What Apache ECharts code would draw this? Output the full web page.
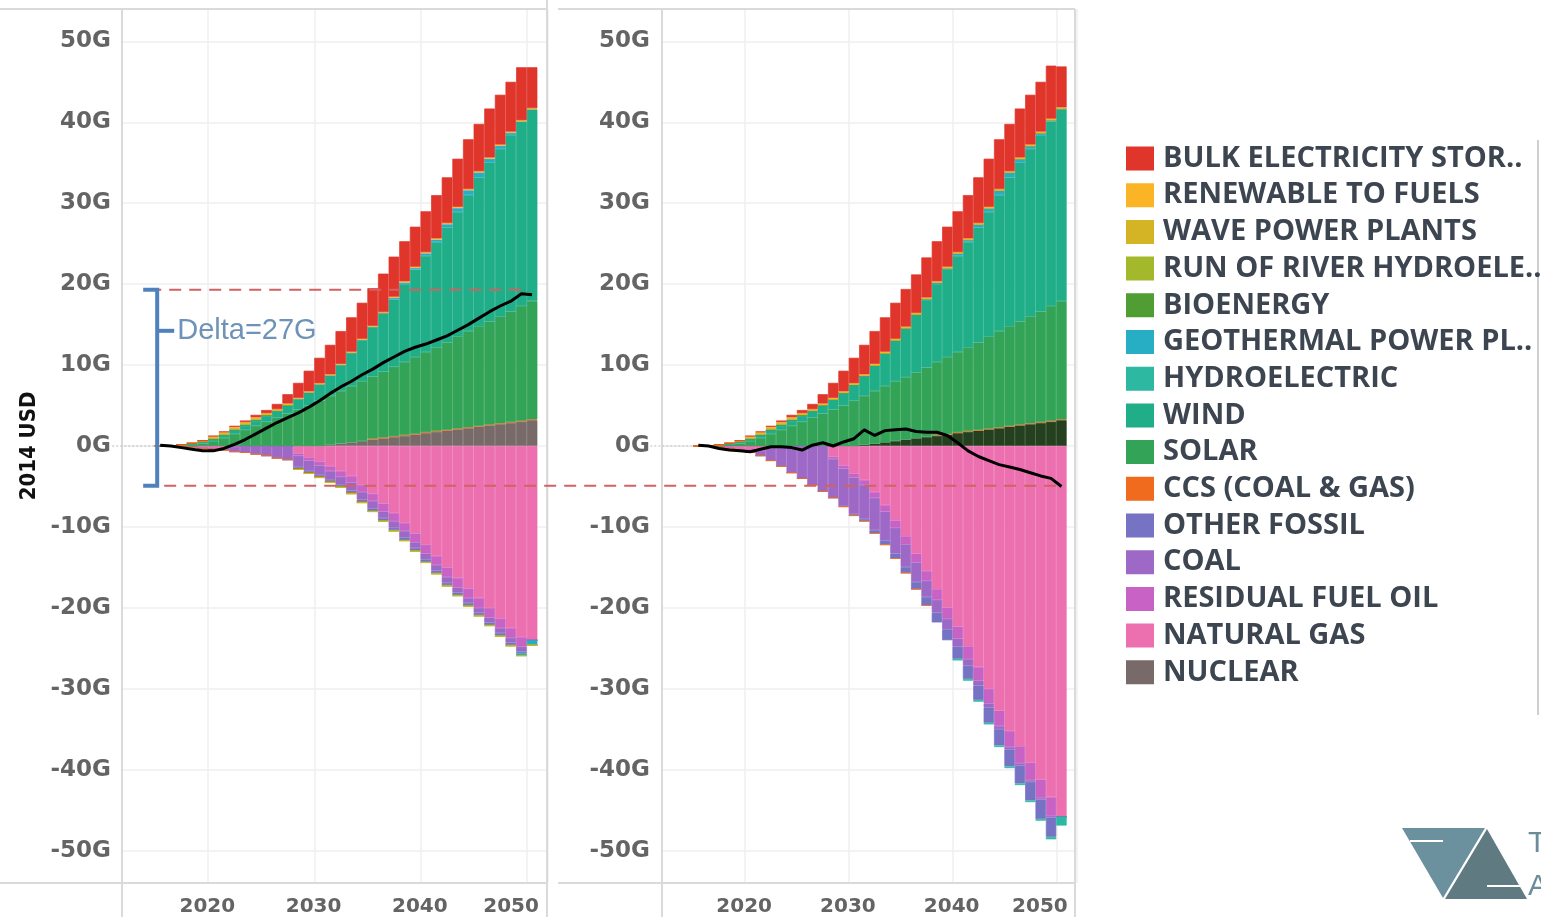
<!DOCTYPE html>
<html>
<head>
<meta charset="utf-8">
<style>
html,body{margin:0;padding:0;background:#fff;}
#main{width:1541px;height:917px;}
</style>
</head>
<body>
<div id="main"></div>
<script src="https://cdn.jsdelivr.net/npm/echarts@6/dist/echarts.min.js"></script>
<script>
// axis bands, one per year
var axisYears = ['2012','2013','2014','2015','2016','2017','2018','2019','2020','2021','2022','2023','2024','2025','2026','2027','2028','2029','2030','2031',
                 '2032','2033','2034','2035','2036','2037','2038','2039','2040','2041','2042','2043','2044','2045','2046','2047','2048','2049','2050','2051'];
// years that carry data (2015..2050)
var years = [2015,2016,2017,2018,2019,2020,2021,2022,2023,2024,2025,2026,2027,2028,2029,2030,2031,2032,2033,2034,
             2035,2036,2037,2038,2039,2040,2041,2042,2043,2044,2045,2046,2047,2048,2049,2050];
var yTicks = [-50,-40,-30,-20,-10,0,10,20,30,40,50];

// ---- shared positive layers (G USD) ----
var nuclear = [0,0,0,0,0,0,0,0,0,0,0,0,0,0,0,0,0.15,0.3,0.45,0.6,0.8,0.95,1.1,1.25,1.4,1.6,1.75,1.9,2.05,2.2,2.4,2.55,2.7,2.85,3.0,3.2];
var solar   = [0,0,0.05,0.15,0.3,0.6,1.0,1.5,2.0,2.5,3.0,3.5,4.0,4.5,5.0,5.6,6.05,6.5,6.95,7.4,7.7,8.15,8.6,9.05,9.5,9.9,10.35,10.8,11.35,11.9,12.3,12.75,13.2,13.65,14.2,14.6];
var wind    = [0,0,0.05,0.1,0.15,0.2,0.3,0.4,0.5,0.6,0.7,0.8,1.0,1.3,1.6,2.0,2.5,3.2,4.1,5.1,6.1,7.2,8.3,9.6,10.8,11.9,13.0,14.2,15.4,16.8,18.4,19.6,20.7,21.8,22.8,23.7];
var runRiver= [0,0,0,0.05,0.05,0.1,0.1,0.1,0.1,0.1,0.05,0,0,0,0,0,0,0,0,0,0,0,0,0,0,0,0,0,0,0,0,0,0,0,0,0];
var wave    = [0,0,0,0,0.05,0.05,0.05,0.05,0.05,0.05,0,0,0,0,0,0,0,0,0,0,0,0,0,0,0,0,0,0,0,0,0,0,0,0,0,0];
var renew   = [0,0,0,0,0,0.15,0.15,0.15,0.15,0.15,0.15,0.15,0.15,0.15,0.15,0.15,0.15,0.15,0.15,0.15,0.15,0.15,0.15,0.15,0.15,0.15,0.15,0.15,0.15,0.15,0.15,0.15,0.15,0.15,0.15,0.15];
var bulk    = [0,0,0,0,0,0.05,0.1,0.15,0.2,0.3,0.4,0.65,1.15,1.85,2.55,3.15,3.65,4.05,4.25,4.45,4.65,4.75,4.95,4.95,4.95,5.05,5.35,5.65,5.95,6.15,5.85,6.05,6.15,6.15,6.55,5.05];

// ---- left panel ----
var ccsL     = [0,0,0,0,0,0,0,0,0,0,0,0,0,0,0,0,0,0,0,0,0.1,0.1,0.1,0.1,0.1,0.1,0.1,0.1,0.1,0.1,0.1,0.1,0.1,0.1,0.1,0.1];
var geoL     = [0,0,0,0,0,0,0,0,0,0,0,0,0,0,0,0,0,0,0,0,0,0,0.2,0.2,0.2,0.3,0.3,0.4,0.5,0.6,0.6,0.5,0.4,0.3,-0.3,-0.6];
var bioL     = [0,0,0.05,0.05,0.1,0.1,0.1,0.15,0.15,0.15,0.15,0.1,0.1,-0.1,-0.1,-0.1,-0.1,-0.1,-0.1,-0.1,-0.1,-0.1,-0.1,-0.1,-0.1,-0.1,-0.1,-0.1,-0.1,-0.1,-0.1,-0.1,-0.1,-0.1,0,0];
var gasL     = [0,0,0,-0.1,-0.3,-0.4,-0.3,-0.1,0,0,0,0,0,-0.9,-1.4,-1.9,-2.5,-3.1,-3.7,-4.8,-5.9,-7.1,-8.3,-9.5,-10.8,-12.2,-13.6,-15.0,-16.3,-17.6,-18.8,-20.0,-21.3,-22.5,-23.6,-24.0];
var residL   = [0,0,0,0,0,0,0,0,0,0,0,0,0,-0.3,-0.4,-0.5,-0.6,-0.7,-0.8,-0.9,-0.9,-1.0,-1.0,-1.0,-1.1,-1.1,-1.1,-1.2,-1.2,-1.2,-1.2,-1.2,-1.2,-1.2,-1.2,0];
var coalL    = [0,0,0,0,0,0,-0.2,-0.6,-0.8,-1.0,-1.2,-1.5,-1.7,-1.4,-1.3,-1.2,-1.1,-1.0,-1.0,-0.9,-0.9,-0.8,-0.8,-0.8,-0.7,-0.7,-0.7,-0.7,-0.6,-0.6,-0.6,-0.6,-0.6,-0.6,-0.6,0];
var otherL   = [0,0,0,0,0,0,0,0,0,0,0,0,0,-0.2,-0.2,-0.2,-0.2,-0.2,-0.3,-0.3,-0.3,-0.3,-0.3,-0.3,-0.3,-0.3,-0.3,-0.3,-0.3,-0.3,-0.3,-0.3,-0.3,-0.3,-0.2,0];
var netL     = [0.1,0.0,-0.2,-0.4,-0.6,-0.6,-0.3,0.2,0.8,1.5,2.2,2.9,3.5,4.1,4.8,5.6,6.5,7.3,8.0,8.8,9.5,10.3,11.0,11.7,12.2,12.6,13.1,13.6,14.3,15.0,15.8,16.6,17.3,17.9,18.8,18.7];

// ---- right panel ----
var ccsR     = [0,0,0,0,0,0,0,0,0,0,0,0,0,0,0,0,0,0,0,0,0,0,0,0.1,0.1,0.1,0.1,0.1,0.1,0.1,0.1,0.1,0.1,0.1,0.1,0.1];
var geoR     = [0,0,0,0,0,0,0,0,0,0,0,0,0,0,0,0,0,0,0,0,0,0,0.2,0.2,0.2,0.3,0.3,0.4,0.5,0.6,0.6,0.5,0.4,0.3,0.2,0.1];
var bioR     = [0,0,0.05,0.05,0.1,0.1,0.1,0.15,0.15,0.15,0.15,0.1,0.1,0,0,0,0,0,0,0,0,0,0,0,0,0,0,0,0,0,0,0,0,0,0,0];
var hydroR   = [0,0,0,0,0,0,0,0,0,0,0,0,0,0,0,0,0,0,0,0,0,0,0,0,0,-0.2,-0.2,-0.2,-0.2,-0.2,-0.2,-0.2,-0.2,-0.2,-0.3,-1.1];
var gasR     = [0,0,-0.1,-0.3,-0.4,-0.5,-0.6,-0.2,0,0,0,0,0,-1.3,-2.4,-3.4,-4.2,-5.7,-7.3,-9.2,-11.15,-13.3,-15.45,-17.7,-19.95,-22.3,-24.75,-27.3,-30.0,-32.7,-35.2,-37.1,-39.1,-41.2,-43.4,-45.8];
var residR   = [0,0,0,0,0,0,0,0,0,0,0,0,0,-0.3,-0.4,-0.5,-0.6,-0.7,-0.8,-0.9,-1.0,-1.1,-1.2,-1.3,-1.4,-1.5,-1.6,-1.7,-1.8,-1.9,-2.0,-2.1,-2.2,-2.3,-2.3,0];
var coalR    = [0,0,0,0,-0.1,-0.3,-0.6,-1.6,-2.5,-3.3,-4.0,-4.8,-5.6,-4.8,-4.6,-4.5,-4.2,-4.0,-3.6,-3.2,-2.8,-2.4,-2.0,-1.6,-1.3,-1.0,-0.8,-0.6,-0.5,-0.4,-0.3,-0.3,-0.2,-0.2,-0.2,0];
var otherR   = [0,0,0,0,0,0,0,0,0,0,0,0,0,0,-0.1,-0.2,-0.3,-0.4,-0.5,-0.6,-0.75,-0.9,-1.05,-1.2,-1.35,-1.5,-1.65,-1.8,-1.9,-2.0,-2.1,-2.2,-2.3,-2.4,-2.4,0];
var netR     = [0.1,0.0,-0.3,-0.5,-0.6,-0.7,-0.4,-0.1,-0.1,-0.2,-0.5,0.1,0.4,0.0,0.5,0.9,2.0,1.3,1.9,2.0,2.1,1.8,1.7,1.7,1.3,0.4,-0.6,-1.3,-1.8,-2.3,-2.6,-2.9,-3.3,-3.7,-4.0,-5.0];

// stacking order, bottom to top (legend shows it reversed)
var stackOrder = ['NUCLEAR','NATURAL GAS','RESIDUAL FUEL OIL','COAL','OTHER FOSSIL','CCS (COAL & GAS)','SOLAR','WIND','HYDROELECTRIC',
                  'GEOTHERMAL POWER PL..','BIOENERGY','RUN OF RIVER HYDROELE..','WAVE POWER PLANTS','RENEWABLE TO FUELS','BULK ELECTRICITY STOR..'];
var colors = {
  'BULK ELECTRICITY STOR..':'#e0352b', 'RENEWABLE TO FUELS':'#fbb426', 'WAVE POWER PLANTS':'#d4b424',
  'RUN OF RIVER HYDROELE..':'#a4b82c', 'BIOENERGY':'#4f9d33', 'GEOTHERMAL POWER PL..':'#27adc4',
  'HYDROELECTRIC':'#2db8a2', 'WIND':'#1fae88', 'SOLAR':'#33a457', 'CCS (COAL & GAS)':'#f06b1e',
  'OTHER FOSSIL':'#7672c4', 'COAL':'#9d68c6', 'RESIDUAL FUEL OIL':'#c862c4', 'NATURAL GAS':'#ec70b0', 'NUCLEAR':'#776a69'
};

var panels = [
  { 'NUCLEAR':nuclear, 'NATURAL GAS':gasL, 'RESIDUAL FUEL OIL':residL, 'COAL':coalL, 'OTHER FOSSIL':otherL,
    'CCS (COAL & GAS)':ccsL, 'SOLAR':solar, 'WIND':wind, 'HYDROELECTRIC':[], 'GEOTHERMAL POWER PL..':geoL,
    'BIOENERGY':bioL, 'RUN OF RIVER HYDROELE..':runRiver, 'WAVE POWER PLANTS':wave, 'RENEWABLE TO FUELS':renew,
    'BULK ELECTRICITY STOR..':bulk, net:netL },
  { 'NUCLEAR':nuclear, 'NATURAL GAS':gasR, 'RESIDUAL FUEL OIL':residR, 'COAL':coalR, 'OTHER FOSSIL':otherR,
    'CCS (COAL & GAS)':ccsR, 'SOLAR':solar, 'WIND':wind, 'HYDROELECTRIC':hydroR, 'GEOTHERMAL POWER PL..':geoR,
    'BIOENERGY':bioR, 'RUN OF RIVER HYDROELE..':runRiver, 'WAVE POWER PLANTS':wave, 'RENEWABLE TO FUELS':renew,
    'BULK ELECTRICITY STOR..':bulk, net:netR }
];

function pad(arr) {
  var off = axisYears.indexOf(String(years[0]));
  var out = [];
  for (var i = 0; i < axisYears.length; i++) {
    var j = i - off;
    out.push(j >= 0 && j < arr.length ? arr[j] : '-');
  }
  return out;
}

var grids = [
  { left: 123, top: 9, width: 425, height: 874, outerBoundsMode: 'none' },
  { left: 662, top: 9, width: 415, height: 874, outerBoundsMode: 'none' }
];
var labelShift = [[12, 42], [12, 43]];   // px pad to push year labels onto the grid lines

var series = [];
panels.forEach(function (pd, p) {
  stackOrder.forEach(function (name) {
    var c = (p === 1 && name === 'NUCLEAR') ? '#24401f' : colors[name];
    series.push({
      name: name, type: 'bar', xAxisIndex: p, yAxisIndex: p, stack: 'p' + p,
      barCategoryGap: '0%', silent: true,
      // hairline border in the fill colour closes the anti-aliasing seams between years
      itemStyle: { color: c, borderColor: c, borderWidth: 0.7 },
      data: pad(pd[name])
    });
  });
  series.push({
    name: 'net' + p, type: 'line', xAxisIndex: p, yAxisIndex: p, z: 10, silent: true,
    symbol: 'none', lineStyle: { color: '#000', width: 3 }, data: pad(pd.net)
  });
});

var tickStyle = { fontSize: 20, fontFamily: 'DejaVu Sans', fontWeight: 'bold', color: '#646464' };
function xAxisFor(p) {
  return {
    type: 'category', gridIndex: p, data: axisYears, boundaryGap: true,
    axisTick: { show: false },
    axisLine: { show: false },
    splitLine: { show: true, interval: function (i, v) { return +v % 10 === 0; }, lineStyle: { color: '#efefef', width: 1.5 } },
    axisLabel: {
      interval: function (i, v) { return +v % 10 === 0; },
      margin: 14, fontSize: 20, fontFamily: 'DejaVu Sans', fontWeight: 'bold', color: '#646464',
      formatter: function (v) { return (v === '2050' ? '{e|' : '{n|') + v + '}'; },
      rich: {
        n: Object.assign({ padding: [0, labelShift[p][0], 0, 0] }, tickStyle),
        e: Object.assign({ padding: [0, labelShift[p][1], 0, 0] }, tickStyle)
      }
    }
  };
}
function yAxisFor(p) {
  var ax = {
    type: 'value', gridIndex: p, min: -54, max: 54,
    axisLine: { show: false },
    axisTick: { show: false, customValues: yTicks },
    splitLine: { lineStyle: { color: '#efefef', width: 1.5 } },
    axisLabel: {
      customValues: yTicks, margin: 12, fontSize: 23,
      fontFamily: 'DejaVu Sans', fontWeight: 'bold', color: '#646464',
      formatter: function (v) { return v + 'G'; }
    }
  };
  if (p === 0) {
    ax.name = '2014 USD';
    ax.nameLocation = 'middle';
    ax.nameGap = 83;
    ax.nameRotate = 90;
    ax.nameTextStyle = { fontFamily: 'Liberation Sans Narrow, DejaVu Sans Condensed, sans-serif', fontWeight: 'bold', fontSize: 22, color: '#111' };
  }
  return ax;
}

var chart = echarts.init(document.getElementById('main'));
chart.setOption({
  animation: false,
  backgroundColor: '#fff',
  grid: grids,
  xAxis: [xAxisFor(0), xAxisFor(1)],
  yAxis: [yAxisFor(0), yAxisFor(1)],
  legend: {
    orient: 'vertical', left: 1126, top: 144, padding: 0, itemWidth: 26, itemHeight: 22, itemGap: 7.7,
    icon: 'rect', selectedMode: false,
    data: stackOrder.slice().reverse(),
    textStyle: { fontFamily: 'Open Sans', fontWeight: 'bold', fontSize: 29, color: '#3c4550', padding: [0, 0, 0, 5] }
  },
  series: series
});

// annotations and pane frame, placed through the axes
var px = function (p, x, y) { return chart.convertToPixel({ xAxisIndex: p, yAxisIndex: p }, [x, y]); };
var deltaTop = 19.3, deltaBottom = -4.9;
var top0 = px(0, '2015', deltaTop), bot0 = px(0, '2015', deltaBottom);
var endL = px(0, '2050', deltaTop), endR = px(1, '2050', deltaBottom);
var zeroL = px(0, '2015', 0), zeroR = px(1, '2015', 0);
var bx = top0[0] - 3;
var frame = { stroke: '#dadada', lineWidth: 2 };
var dash = { stroke: '#d16262', lineWidth: 2, lineDash: [12, 8] };
var blue = { stroke: '#4f81bd', lineWidth: 4 };
function line(x1, y1, x2, y2, style, z) {
  return { type: 'line', silent: true, z: z || 1, shape: { x1: x1, y1: y1, x2: x2, y2: y2 }, style: style };
}
chart.setOption({
  graphic: [
    line(0, 9, 547, 9, frame), line(0, 883, 547, 883, frame),
    line(122, 9, 122, 917, frame), line(547, 0, 547, 917, frame),
    line(558, 9, 1075, 9, frame), line(558, 883, 1075, 883, frame),
    line(662, 9, 662, 917, frame), line(1075, 9, 1075, 917, frame),
    line(1538, 140, 1538, 715, { stroke: '#cfcfcf', lineWidth: 2 }),
    line(zeroL[0] - 48, zeroL[1], zeroL[0], zeroL[1], { stroke: '#bbbbbb', lineWidth: 1, lineDash: [2, 2] }),
    line(zeroR[0] - 48, zeroR[1], zeroR[0], zeroR[1], { stroke: '#bbbbbb', lineWidth: 1, lineDash: [2, 2] }),
    line(bx - 8, top0[1], endL[0] - 4, top0[1], dash, 100),
    line(bx - 13, bot0[1], endR[0] - 5, bot0[1], dash, 100),
    { type: 'polyline', silent: true, z: 101, shape: { points: [[bx - 14, top0[1]], [bx, top0[1]], [bx, bot0[1]], [bx - 14, bot0[1]]] }, style: { stroke: '#4f81bd', lineWidth: 4, fill: null } },
    line(bx, top0[1] + 41, bx + 17, top0[1] + 41, blue, 101),
    { type: 'text', silent: true, z: 101, x: bx + 20, y: top0[1] + 41,
      style: { text: 'Delta=27G', fill: '#6f93b8', font: '29px "Liberation Sans", sans-serif', verticalAlign: 'middle' } },
    { type: 'polygon', silent: true, shape: { points: [[1402, 828], [1485, 828], [1443, 898]] }, style: { fill: '#6b919e' } },
    { type: 'polygon', silent: true, shape: { points: [[1487, 829], [1527, 899], [1445, 899]] }, style: { fill: '#607a81' } },
    line(1410, 841, 1443, 841, { stroke: '#fff', lineWidth: 2 }, 2),
    line(1487, 886, 1520, 886, { stroke: '#fff', lineWidth: 2 }, 2),
    { type: 'text', silent: true, x: 1528, y: 844, style: { text: 'T', fill: '#6b8d99', font: '30px "Liberation Sans", sans-serif', verticalAlign: 'middle' } },
    { type: 'text', silent: true, x: 1528, y: 887, style: { text: 'A', fill: '#6b8d99', font: '30px "Liberation Sans", sans-serif', verticalAlign: 'middle' } }
  ]
});
</script>
</body>
</html>
